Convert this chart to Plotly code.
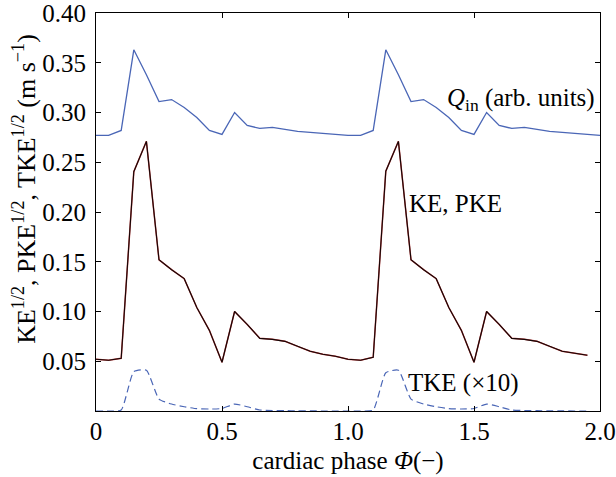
import plotly.graph_objects as go

phase = [0.00, 0.05, 0.10, 0.15, 0.20, 0.25, 0.30, 0.35, 0.40, 0.45,
         0.50, 0.55, 0.60, 0.65, 0.70, 0.75, 0.80, 0.85, 0.90, 0.95,
         1.00, 1.05, 1.10, 1.15, 1.20, 1.25, 1.30, 1.35, 1.40, 1.45,
         1.50, 1.55, 1.60, 1.65, 1.70, 1.75, 1.80, 1.85, 1.90, 1.95, 2.00]

q_in = [0.277, 0.277, 0.282, 0.363, 0.338, 0.311, 0.313, 0.305, 0.295, 0.282,
        0.278, 0.300, 0.287, 0.284, 0.285, 0.283, 0.281, 0.280, 0.279, 0.278,
        0.277, 0.277, 0.282, 0.363, 0.338, 0.311, 0.313, 0.305, 0.295, 0.282,
        0.278, 0.300, 0.287, 0.284, 0.285, 0.283, 0.281, 0.280, 0.279, 0.278, 0.277]

ke = [0.052, 0.051, 0.053, 0.2405, 0.271, 0.152, 0.142, 0.133, 0.104, 0.081,
      0.049, 0.100, 0.087, 0.073, 0.072, 0.070, 0.065, 0.060, 0.057, 0.055,
      0.052, 0.051, 0.054, 0.241, 0.271, 0.152, 0.142, 0.133, 0.104, 0.081,
      0.049, 0.100, 0.087, 0.073, 0.072, 0.070, 0.065, 0.060, 0.058, 0.056]

pke = [0.052, 0.051, 0.053, 0.2405, 0.271, 0.152, 0.142, 0.133, 0.104, 0.081,
       0.049, 0.100, 0.087, 0.073, 0.072, 0.070, 0.065, 0.060, 0.057, 0.055,
       0.052, 0.051, 0.054, 0.241, 0.271, 0.152, 0.142, 0.133, 0.104, 0.081,
       0.049, 0.100, 0.087, 0.073, 0.072, 0.070, 0.065, 0.060, 0.058, 0.056]

tke_x10 = [0.000, 0.000, 0.001, 0.0395, 0.041, 0.012, 0.007, 0.0043, 0.0023, 0.002,
           0.0025, 0.007, 0.0043, 0.001, 0.0005, 0.0003, 0.0002, 0.0001, 0.0, 0.0,
           0.0, 0.0, 0.001, 0.0385, 0.041, 0.012, 0.007, 0.0043, 0.0023, 0.002,
           0.0025, 0.007, 0.0043, 0.001, 0.0005, 0.0003, 0.0002, 0.0001, 0.0, 0.0]

x_tickvals = [0, 0.5, 1.0, 1.5, 2.0]
x_ticktext = ["0", "0.5", "1.0", "1.5", "2.0"]
y_tickvals = [0.05, 0.10, 0.15, 0.20, 0.25, 0.30, 0.35, 0.40]
y_ticktext = ["0.05", "0.10", "0.15", "0.20", "0.25", "0.30", "0.35", "0.40"]

FONT = "Liberation Serif, Times New Roman, serif"
BLUE = "#4a66b6"

fig = go.Figure()
fig.add_trace(go.Scatter(x=phase, y=q_in, mode="lines",
                         line=dict(color=BLUE, width=1.3), name="Qin"))
fig.add_trace(go.Scatter(x=phase[:len(pke)], y=pke, mode="lines",
                         line=dict(color="#c04040", width=1.5), name="PKE"))
fig.add_trace(go.Scatter(x=phase[:len(ke)], y=ke, mode="lines",
                         line=dict(color="#140606", width=1.1), name="KE"))
fig.add_trace(go.Scatter(x=phase[:len(tke_x10)], y=tke_x10, mode="lines",
                         line=dict(color=BLUE, width=1.2, dash="7px,4px",
                                   shape="spline", smoothing=0.5),
                         name="TKE"))

axis_common = dict(showline=True, mirror="ticks", linecolor="black", linewidth=1.2,
                   ticks="inside", ticklen=5, tickwidth=1, tickcolor="black",
                   showgrid=False, zeroline=False, automargin=False,
                   ticklabeloverflow="allow",
                   tickfont=dict(family=FONT, size=25, color="black"))

fig.update_xaxes(range=[0, 2.0], tickvals=x_tickvals, ticktext=x_ticktext,
                 ticklabelstandoff=-2,
                 title=dict(text="cardiac phase <i>Φ</i>(−)",
                            font=dict(family=FONT, size=25, color="black"),
                            standoff=7),
                 **axis_common)
fig.update_yaxes(range=[0, 0.40], tickvals=y_tickvals, ticktext=y_ticktext,
                 ticklabelstandoff=4, **axis_common)

fig.add_annotation(xref="paper", yref="paper", x=0, y=0.557, xshift=-90,
                   text="KE<sup>1/2</sup>, PKE<sup>1/2</sup>, TKE<sup>1/2</sup> (m s<sup>−1</sup>)",
                   textangle=-90, showarrow=False,
                   font=dict(family=FONT, size=26, color="black"))
fig.add_annotation(x=1.383, y=0.313, xref="x", yref="y", xanchor="left", yanchor="middle",
                   text="<i>Q</i><sub>in</sub> (arb. units)", showarrow=False,
                   font=dict(family=FONT, size=25, color="black"))
fig.add_annotation(x=1.235, y=0.209, xref="x", yref="y", xanchor="left", yanchor="middle",
                   text="KE, PKE", showarrow=False,
                   font=dict(family=FONT, size=25, color="black"))
fig.add_annotation(x=1.23, y=0.028, xref="x", yref="y", xanchor="left", yanchor="middle",
                   text="TKE (×10)", showarrow=False,
                   font=dict(family=FONT, size=25, color="black"))

fig.update_layout(width=616, height=477, showlegend=False,
                  margin=dict(l=96, r=16, t=13, b=66, autoexpand=False),
                  paper_bgcolor="white", plot_bgcolor="white",
                  font=dict(family=FONT, size=25, color="black"))

fig.write_html("out.html", config={"displayModeBar": False},
               post_script="document.body.style.margin='0px';document.body.style.overflow='hidden';")
